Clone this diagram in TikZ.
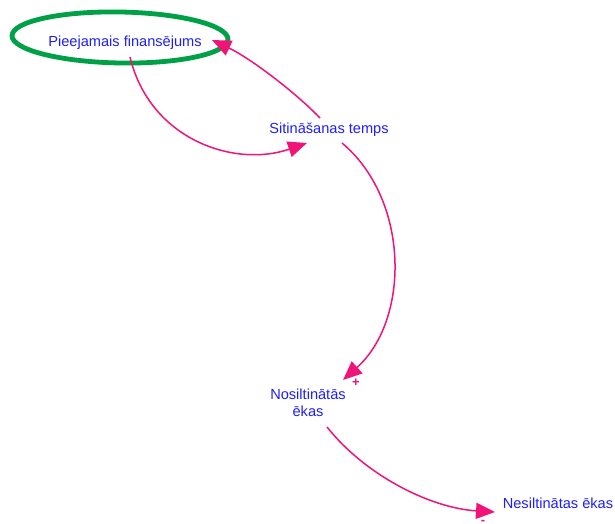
\documentclass[tikz,border=0pt]{standalone}
\usepackage{fontspec}
\setmainfont{Liberation Sans}
\usetikzlibrary{arrows.meta}
\definecolor{lnk}{RGB}{240,20,120}
\definecolor{txt}{RGB}{30,30,250}
\definecolor{grn}{RGB}{0,160,70}
\begin{document}
\begin{tikzpicture}[x=1pt,y=-1pt,
  var/.style={text=txt,font=\fontsize{14.6}{17}\selectfont,inner sep=0pt,align=center},
  link/.style={draw=lnk,line width=1.5pt,-{Triangle[length=19pt,width=16pt]}},
  sgn/.style={text=lnk,font=\fontsize{13}{13}\selectfont\bfseries,inner sep=0pt}]
\useasboundingbox (0,0) rectangle (615,524);
\draw[grn,line width=4.8pt,rotate around={-1:(120,37.5)}] (120,37.5) ellipse [x radius=108, y radius=25.5];
\node[var] (P) at (125,43) {Pieejamais finansējums};
\node[var] (S) at (329,130) {Sitināšanas temps};
\node[var] (N) at (308,403) {Nosiltinātās\\ēkas};
\node[var] (E) at (558,503) {Nesiltinātas ēkas};
\draw[link] ([shift={(5,14)}]P.center) .. controls (150,140) and (235,168) .. ([shift={(-22,13)}]S.center);
\draw[link] ([shift={(-9,-12)}]S.center) .. controls (295,92) and (250,58) .. ([shift={(87,-3)}]P.center);
\draw[link] ([shift={(13,13)}]S.center) .. controls (410,200) and (410,320) .. ([shift={(35,-23)}]N.center);
\draw[link] ([shift={(19,24)}]N.center) .. controls (365,475) and (430,508) .. ([shift={(-63,9)}]E.center);
\node[sgn] (plus) at (356,383) {+};
\node[sgn,anchor=base] (minus) at (483,524) {-};
\end{tikzpicture}
\end{document}
